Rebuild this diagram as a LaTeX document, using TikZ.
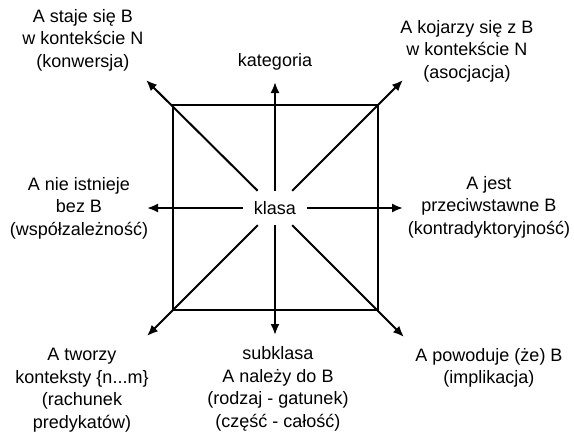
\documentclass[tikz,border=0pt]{standalone}
\usepackage{fontspec}
\setmainfont{Liberation Sans}
\usetikzlibrary{arrows.meta}

\begin{document}
\begin{tikzpicture}[x=1pt,y=-1pt,
	arr/.style={-{Latex[length=11pt,width=9pt]},line width=2pt},
	txt/.style={align=center,font=\fontsize{18}{22.5}\selectfont}]

	\useasboundingbox (0,0) rectangle (574,432);

	% kwadrat
	\draw[line width=2pt] (173,105) rectangle (378,310);

	\node[txt,minimum width=64pt,minimum height=34pt,inner sep=0pt] (klasa) at (275,208) {klasa};

	% konce strzalek
	\coordinate (n) at (275,82);
	\coordinate (s) at (275,335);
	\coordinate (w) at (147,208);
	\coordinate (e) at (403,208);
	\coordinate (nw) at (146,80);
	\coordinate (ne) at (403,80);
	\coordinate (sw) at (147,336);
	\coordinate (se) at (404,337);

	\node[txt] (konw) at (83,40) {A staje się B\\w kontekście N\\(konwersja)};
	\node[txt] (kat) at (275,62) {kategoria};
	\node[txt] (asoc) at (467,51) {A kojarzy się z B\\w kontekście N\\(asocjacja)};
	\node[txt] (wspol) at (79,208) {A nie istnieje\\bez B\\(współzależność)};
	\node[txt] (kontr) at (489,207) {A jest\\przeciwstawne B\\(kontradyktoryjność)};
	\node[txt] (rach) at (82,390) {A tworzy\\konteksty \{n...m\}\\(rachunek\\predykatów)};
	\node[txt] (sub) at (278,389) {subklasa\\A należy do B\\(rodzaj - gatunek)\\(część - całość)};
	\node[txt] (impl) at (489,368) {A powoduje (że) B\\(implikacja)};

	\foreach \k in {n,s,w,e,nw,ne,sw,se}
		\draw[arr] (klasa) -- (\k);
\end{tikzpicture}
\end{document}
